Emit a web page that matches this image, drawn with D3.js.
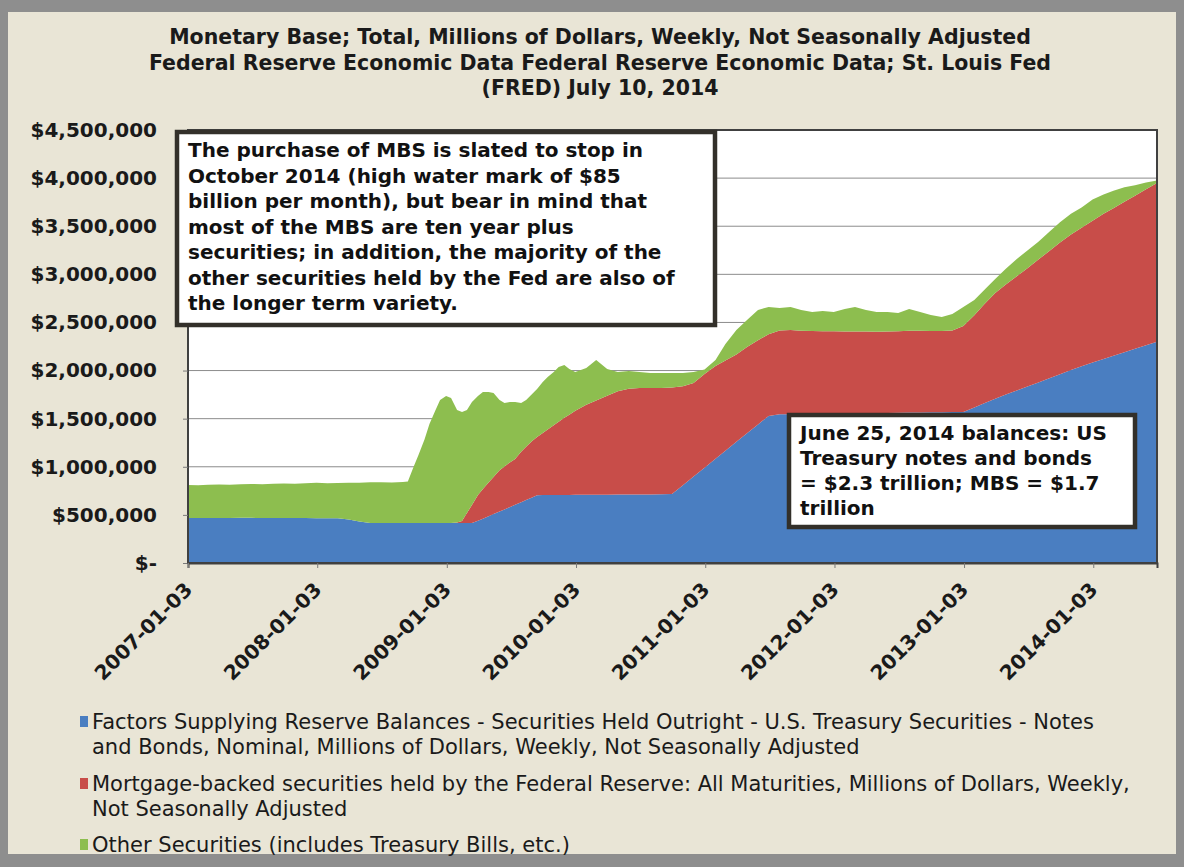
<!DOCTYPE html>
<html>
<head>
<meta charset="utf-8">
<script src="https://cdn.jsdelivr.net/npm/d3@7"></script>
<style>
  html, body { margin: 0; padding: 0; background: #e9e5d6; }
  svg { display: block; }
</style>
</head>
<body>
<svg id="chart" width="1184" height="867"></svg>
<script>
// Weekly Fed balance sheet series, sampled (millions of dollars)
const dates = [
  "2007-01-03","2007-02-01","2007-03-01","2007-04-01","2007-05-01","2007-06-01",
  "2007-07-01","2007-08-01","2007-09-01","2007-10-01","2007-11-01","2007-12-01",
  "2008-01-01","2008-02-01","2008-03-01","2008-04-01","2008-05-01","2008-06-01",
  "2008-07-01","2008-08-01","2008-09-01","2008-09-15","2008-10-01","2008-10-15",
  "2008-11-01","2008-11-15","2008-12-01","2008-12-15","2009-01-01","2009-01-15",
  "2009-02-01","2009-02-15","2009-03-01","2009-03-15","2009-04-01","2009-04-15",
  "2009-05-01","2009-05-15","2009-06-01","2009-06-15","2009-07-01","2009-07-15",
  "2009-08-01","2009-08-15","2009-09-01","2009-09-15","2009-10-01","2009-10-15",
  "2009-11-01","2009-11-15","2009-12-01","2009-12-15","2010-01-01","2010-02-01",
  "2010-03-01","2010-04-01","2010-05-01","2010-06-01","2010-07-01","2010-08-01",
  "2010-09-01","2010-10-01","2010-11-01","2010-12-01","2011-01-01","2011-02-01",
  "2011-03-01","2011-04-01","2011-05-01","2011-06-01","2011-07-01","2011-08-01",
  "2011-09-01","2011-10-01","2011-11-01","2011-12-01","2012-01-01","2012-02-01",
  "2012-03-01","2012-04-01","2012-05-01","2012-06-01","2012-07-01","2012-08-01",
  "2012-09-01","2012-10-01","2012-11-01","2012-12-01","2013-01-01","2013-02-01",
  "2013-03-01","2013-04-01","2013-05-01","2013-06-01","2013-07-01","2013-08-01",
  "2013-09-01","2013-10-01","2013-11-01","2013-12-01","2014-01-01","2014-02-01",
  "2014-03-01","2014-04-01","2014-05-01","2014-06-01","2014-07-02"
];

// U.S. Treasury notes and bonds held outright
const treasury = [
  468000,468000,467000,467000,468000,469000,469000,468000,468000,467000,468000,467000,
  466000,466000,464000,452000,431000,417000,416000,416000,416000,416000,416000,416000,
  416000,416000,416000,416000,416000,416000,416000,416000,416000,416000,438000,460000,
  486000,508000,535000,557000,583000,605000,632000,654000,681000,703000,707000,707000,
  707000,708000,708000,708000,709000,709000,710000,710000,711000,711000,712000,713000,
  715000,718000,809000,899000,991000,1083000,1166000,1259000,1348000,1440000,1529000,1545000,
  1547000,1548000,1550000,1551000,1553000,1554000,1555000,1557000,1558000,1560000,1561000,1563000,
  1564000,1566000,1567000,1569000,1570000,1617000,1660000,1707000,1750000,1793000,1834000,1877000,
  1920000,1961000,2005000,2045000,2083000,2120000,2154000,2191000,2227000,2264000,2300000
];

// Mortgage-backed securities
const mbs = [
  0,0,0,0,0,0,0,0,0,0,0,0,
  0,0,0,0,0,0,0,0,0,0,0,0,
  0,0,0,0,0,0,6000,21000,104000,187000,269000,310000,
  351000,385000,428000,445000,465000,477000,524000,553000,588000,607000,644000,681000,
  724000,761000,801000,834000,873000,935000,980000,1029000,1074000,1099000,1107000,1106000,
  1104000,1106000,1028000,972000,974000,965000,939000,907000,897000,875000,849000,872000,
  875000,866000,860000,858000,855000,852000,850000,848000,846000,845000,848000,851000,
  850000,846000,845000,848000,894000,957000,1028000,1100000,1144000,1187000,1229000,1276000,
  1323000,1370000,1410000,1440000,1475000,1509000,1534000,1563000,1590000,1621000,1650000
];

// Other securities (Treasury bills, etc.)
const other = [
  343000,341000,347000,349000,345000,350000,352000,350000,356000,359000,355000,363000,
  368000,362000,368000,383000,402000,421000,424000,421000,426000,430000,582000,707000,
  868000,1029000,1164000,1278000,1320000,1299000,1168000,1133000,1070000,1071000,1029000,1008000,
  941000,874000,731000,661000,626000,592000,507000,487000,488000,499000,530000,546000,
  554000,568000,549000,475000,403000,383000,420000,278000,200000,186000,166000,156000,
  156000,151000,138000,114000,45000,62000,171000,256000,281000,315000,283000,234000,
  239000,216000,199000,211000,201000,234000,256000,225000,205000,204000,190000,226000,
  195000,166000,145000,171000,197000,160000,150000,145000,165000,180000,185000,185000,
  200000,210000,215000,210000,220000,200000,180000,150000,110000,70000,25000
];

const seriesKeys = ["treasury", "mbs", "other"];
const seriesColors = ["#4a7ec1", "#c84d49", "#8dbe4f"];

const yTickValues = [0,500000,1000000,1500000,2000000,2500000,3000000,3500000,4000000,4500000];
const xTickLabels = ["2007-01-03","2008-01-03","2009-01-03","2010-01-03",
                     "2011-01-03","2012-01-03","2013-01-03","2014-01-03"];

const titleLines = [
  "Monetary Base; Total, Millions of Dollars, Weekly, Not Seasonally Adjusted",
  "Federal Reserve Economic Data Federal Reserve Economic Data; St. Louis Fed",
  "(FRED) July 10, 2014"
];
const noteLines = [
  "The purchase of MBS is slated to stop in",
  "October 2014 (high water mark of $85",
  "billion per month), but bear in mind that",
  "most of the MBS are ten year plus",
  "securities; in addition, the majority of the",
  "other securities held by the Fed are also of",
  "the longer term variety."
];
const balanceLines = [
  "June 25, 2014 balances: US",
  "Treasury notes and bonds",
  "= $2.3 trillion; MBS = $1.7",
  "trillion"
];
const legendLabels = [
  ["Factors Supplying Reserve Balances - Securities Held Outright - U.S. Treasury Securities - Notes",
   "and Bonds, Nominal, Millions of Dollars, Weekly, Not Seasonally Adjusted"],
  ["Mortgage-backed securities held by the Federal Reserve: All Maturities, Millions of Dollars, Weekly,",
   "Not Seasonally Adjusted"],
  ["Other Securities (includes Treasury Bills, etc.)"]
];

const W = 1184, H = 867;
const plot = { left: 188, right: 1157, top: 130, bottom: 563 };
const svg = d3.select("#chart");
const parse = d3.timeParse("%Y-%m-%d");
const FONT = "DejaVu Sans, Verdana, sans-serif";

// page frame
svg.append("rect").attr("width", W).attr("height", H).attr("fill", "#8e8e8e");
svg.append("rect").attr("x", 8).attr("y", 12).attr("width", W - 16).attr("height", H - 25)
  .attr("fill", "#e9e5d6");

// title
svg.append("g").selectAll("text").data(titleLines).join("text")
  .attr("x", 600).attr("y", (d, i) => 44 + i * 25.5)
  .attr("text-anchor", "middle")
  .attr("font-family", FONT)
  .attr("font-weight", "bold").attr("font-size", 20.5).attr("fill", "#1a1a1a")
  .text(d => d);

const rows = dates.map((d, i) => ({ date: parse(d), treasury: treasury[i], mbs: mbs[i], other: other[i] }));

const x = d3.scaleTime()
  .domain([parse(dates[0]), parse(dates[dates.length - 1])])
  .range([plot.left, plot.right]);
const y = d3.scaleLinear().domain([0, 4500000]).range([plot.bottom, plot.top]);

// plot background and gridlines
svg.append("rect").attr("x", plot.left).attr("y", plot.top)
  .attr("width", plot.right - plot.left).attr("height", plot.bottom - plot.top)
  .attr("fill", "#ffffff");
svg.append("g").selectAll("line").data(yTickValues.slice(1)).join("line")
  .attr("x1", plot.left).attr("x2", plot.right)
  .attr("y1", d => y(d)).attr("y2", d => y(d))
  .attr("stroke", "#8c8c8c").attr("stroke-width", 1);

// stacked areas
const stacked = d3.stack().keys(seriesKeys)(rows);
const area = d3.area()
  .x(d => x(d.data.date))
  .y0(d => y(d[0]))
  .y1(d => y(d[1]));
svg.append("g").selectAll("path").data(stacked).join("path")
  .attr("d", area)
  .attr("fill", (d, i) => seriesColors[i]);

// plot border
svg.append("rect").attr("x", plot.left).attr("y", plot.top)
  .attr("width", plot.right - plot.left).attr("height", plot.bottom - plot.top)
  .attr("fill", "none").attr("stroke", "#404040").attr("stroke-width", 2);

// y axis
const yAxis = d3.axisLeft(y).tickValues(yTickValues).tickSize(5).tickPadding(26)
  .tickFormat(d => d === 0 ? "$-" : "$" + d3.format(",")(d));
const gy = svg.append("g").attr("transform", `translate(${plot.left},0)`).call(yAxis);
gy.select(".domain").remove();
gy.selectAll(".tick line").attr("stroke", "#7a7a7a");
gy.selectAll(".tick text")
  .attr("font-family", FONT)
  .attr("font-weight", "bold").attr("font-size", 20).attr("fill", "#1a1a1a");

// x axis
const xAxis = d3.axisBottom(x).tickValues(xTickLabels.map(parse)).tickSize(5)
  .tickFormat(d3.timeFormat("%Y-%m-%d"));
const gx = svg.append("g").attr("transform", `translate(0,${plot.bottom})`).call(xAxis);
gx.select(".domain").attr("stroke", "#404040").attr("stroke-width", 2);
gx.selectAll(".tick line").attr("stroke", "#7a7a7a");
gx.selectAll(".tick text")
  .attr("font-family", FONT)
  .attr("font-weight", "bold").attr("font-size", 20).attr("fill", "#1a1a1a")
  .attr("text-anchor", "end").attr("dy", null)
  .attr("transform", "translate(5,28) rotate(-45)")
  .attr("y", 0);

// text boxes
function textBox(lines, bx, by, bw, bh, tx, ty, lh) {
  const g = svg.append("g");
  g.append("rect").attr("x", bx).attr("y", by).attr("width", bw).attr("height", bh)
    .attr("fill", "#ffffff").attr("stroke", "#33302a").attr("stroke-width", 4.5);
  g.selectAll("text").data(lines).join("text")
    .attr("x", tx).attr("y", (d, i) => ty + i * lh)
    .attr("font-family", FONT)
    .attr("font-weight", "bold").attr("font-size", 20).attr("fill", "#111")
    .text(d => d);
}
textBox(noteLines, 177, 132, 538, 193, 188, 157, 25.5);
textBox(balanceLines, 789, 415, 346, 112, 800, 440, 25);

// legend
const legend = svg.append("g");
const legendTops = [722, 784, 845];
legendLabels.forEach((lines, i) => {
  legend.append("rect").attr("x", 80).attr("y", legendTops[i] - 6)
    .attr("width", 8).attr("height", 11).attr("fill", seriesColors[i]);
  lines.forEach((t, j) => {
    legend.append("text").attr("x", 92).attr("y", legendTops[i] + j * 25 + 7)
      .attr("font-family", FONT)
      .attr("font-size", 21).attr("fill", "#1a1a1a")
      .text(t);
  });
});
</script>
</body>
</html>
